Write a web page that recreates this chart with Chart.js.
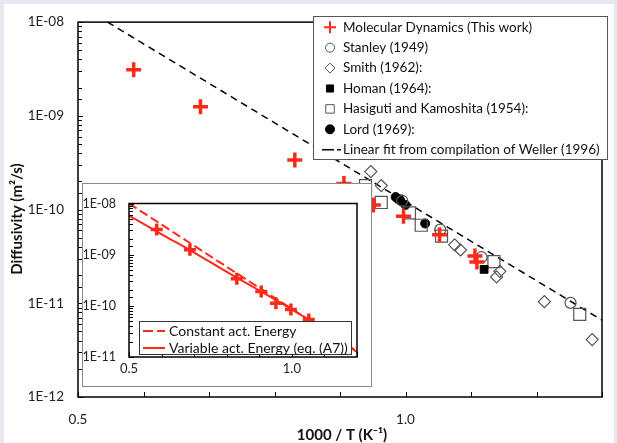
<!DOCTYPE html>
<html>
<head>
<meta charset="utf-8">
<script src="https://cdn.jsdelivr.net/npm/chart.js@4.4.0/dist/chart.umd.min.js"></script>
<style>
  html, body { margin: 0; padding: 0; }
  body { width: 617px; height: 443px; background: #e6e7f1; position: relative; overflow: hidden; }
  #panel { position: absolute; left: 4px; top: 4px; width: 610px; height: 439px; background: #fff; }
  #main { position: absolute; left: 0; top: 0; }
  #inset { position: absolute; left: 82px; top: 183px; }
</style>
</head>
<body>
<div id="panel"></div>
<canvas id="main" width="617" height="443"></canvas>
<canvas id="inset" width="290" height="204"></canvas>
<script>
// x = 1000 / T (K^-1), y = diffusivity (m^2/s)
var mdX = [0.585, 0.687, 0.831, 0.906, 0.951, 0.997, 1.052, 1.106, 1.109];
var mdY = [3.1e-9, 1.25e-9, 3.38e-10, 1.9e-10, 1.12e-10, 8.5e-11, 5.4e-11, 3.2e-11, 2.75e-11];
var stanleyX = [0.995, 1.053, 1.116, 1.252];
var stanleyY = [1.24e-10, 6.1e-11, 3.1e-11, 1.01e-11];
var smithX = [0.947, 0.963, 1.075, 1.084, 1.139, 1.144, 1.212, 1.285];
var smithY = [2.54e-10, 1.8e-10, 4.2e-11, 3.7e-11, 1.91e-11, 2.19e-11, 1.04e-11, 4.1e-12];
var homanX = [0.99, 1.12];
var homanY = [1.3e-10, 2.3e-11];
var hasigutiX = [0.939, 0.963, 1.006, 1.024, 1.055, 1.135, 1.266];
var hasigutiY = [1.8e-10, 1.19e-10, 9.2e-11, 6.8e-11, 5.2e-11, 2.78e-11, 7.6e-12];
var lordX = [0.985, 0.992, 1.0, 1.03];
var lordY = [1.36e-10, 1.25e-10, 1.12e-10, 7.1e-11];
var wellerX = [0.545, 1.3];
var wellerY = [1.0e-8, 6.6e-12];

// inset fits
var constX = [0.5, 1.2];
var constY = [1.0e-8, 1.3e-11];
var varX = [0.5, 0.6, 0.7, 0.8, 0.9, 1.0, 1.1, 1.2];
var varY = [5.8e-9, 2.5e-9, 1.1e-9, 4.6e-10, 2.0e-10, 8.5e-11, 3.4e-11, 1.25e-11];

var xLabels = [0.5, 1.0];
var mainLabels = ['Molecular Dynamics (This work)', 'Stanley (1949)', 'Smith (1962):', 'Homan (1964):',
  'Hasiguti and Kamoshita (1954):', 'Lord (1969):', 'Linear fit from compilation of Weller (1996)'];
var insetLabels = ['Constant act. Energy', 'Variable act. Energy (eq. (A7))'];

var RED = '#ff2a1a';
var GREY = '#555';
var FONT = 'Lato, "Open Sans", sans-serif';
Chart.defaults.font.family = FONT;
Chart.defaults.color = '#222';

function pts(xs, ys) { return xs.map(function(x, i) { return { x: x, y: ys[i] }; }); }
function isDecade(v) { var e = Math.log10(v); return Math.abs(e - Math.round(e)) < 1e-6; }
function expLabel(v) {
    if (!isDecade(v)) return '';
    var e = Math.round(Math.log10(v));
    return '1E-' + String(-e).padStart(2, '0');
}
function xLabel(v) {
    for (var i = 0; i < xLabels.length; i++) if (Math.abs(v - xLabels[i]) < 1e-6) return xLabels[i].toFixed(1);
    return '';
}

/* frame + inside tick marks */
var frameTicks = {
    id: 'frameTicks',
    afterDatasetsDraw: function(chart, args, o) {
        var ctx = chart.ctx, a = chart.chartArea, xs = chart.scales.x, ys = chart.scales.y;
        ctx.save();
        ctx.strokeStyle = '#000';
        ctx.lineWidth = 1;
        ctx.beginPath();
        xs.ticks.forEach(function(t) {
            var px = Math.round(xs.getPixelForValue(t.value)) + 0.5;
            ctx.moveTo(px, a.bottom); ctx.lineTo(px, a.bottom - o.len);
        });
        ys.ticks.forEach(function(t) {
            var py = Math.round(ys.getPixelForValue(t.value)) + 0.5;
            ctx.moveTo(a.left, py); ctx.lineTo(a.left + (isDecade(t.value) ? o.len : o.len - 1), py);
        });
        ctx.stroke();
        ctx.lineWidth = o.frame;
        ctx.strokeRect(a.left, a.top, a.right - a.left, a.bottom - a.top);
        ctx.restore();
    }
};

/* legend box drawn inside the plot */
var boxLegend = {
    id: 'boxLegend',
    afterDraw: function(chart, args, o) {
        var ctx = chart.ctx;
        ctx.save();
        ctx.fillStyle = '#fff';
        ctx.fillRect(o.x, o.y, o.w, o.h);
        ctx.strokeStyle = o.border;
        ctx.lineWidth = 1;
        ctx.strokeRect(o.x + 0.5, o.y + 0.5, o.w, o.h);
        ctx.font = o.font;
        ctx.textBaseline = 'middle';
        var row = 0;
        chart.data.datasets.forEach(function(ds) {
            if (o.linesOnly && !ds.showLine) return;
            var cy = o.y + o.first + row * o.step;
            row++;
            ctx.save();
            if (ds.showLine) {
                ctx.strokeStyle = ds.borderColor;
                ctx.lineWidth = ds.borderWidth;
                ctx.setLineDash(ds.legendDash || []);
                ctx.beginPath();
                ctx.moveTo(o.lx0, cy); ctx.lineTo(o.lx1, cy);
                ctx.stroke();
            } else {
                ctx.strokeStyle = ds.borderColor;
                ctx.fillStyle = ds.backgroundColor;
                ctx.lineWidth = ds.legendBorder;
                Chart.helpers.drawPoint(ctx, { pointStyle: ds.pointStyle, radius: ds.legendRadius, borderWidth: ds.legendBorder, rotation: 0 }, o.mx, cy);
            }
            ctx.restore();
            ctx.fillStyle = '#111';
            ctx.fillText(ds.label, o.tx, cy);
        });
        ctx.restore();
    }
};

var axisTitles = {
    id: 'axisTitles',
    afterDraw: function(chart) {
        var ctx = chart.ctx;
        ctx.save();
        ctx.fillStyle = '#111';
        ctx.font = 'bold 15px ' + FONT;
        ctx.textAlign = 'center';
        ctx.textBaseline = 'middle';
        ctx.fillText('1000 / T (K\u207B\u00B9)', 342, 435);
        ctx.translate(17, 219);
        ctx.rotate(-Math.PI / 2);
        ctx.fillText('Diffusivity (m\u00B2/s)', 0, 0);
        ctx.restore();
    }
};

var insetBg = {
    id: 'insetBg',
    beforeDraw: function(chart) {
        var ctx = chart.ctx;
        ctx.save();
        ctx.fillStyle = '#fff';
        ctx.fillRect(0, 0, chart.width, chart.height);
        ctx.strokeStyle = '#8a8a8a';
        ctx.lineWidth = 1;
        ctx.strokeRect(0.5, 0.5, chart.width - 1, chart.height - 1);
        ctx.restore();
    }
};

function markers(label, xs, ys, style, r, fill, stroke, bw, lr, lbw) {
    return {
        label: label, data: pts(xs, ys), pointStyle: style, pointRadius: r, pointHoverRadius: r,
        backgroundColor: fill, borderColor: stroke, pointBorderWidth: bw, borderWidth: bw,
        legendRadius: lr, legendBorder: lbw, showLine: false
    };
}

new Chart(document.getElementById('main'), {
    type: 'scatter',
    data: {
        datasets: [
            markers(mainLabels[0], mdX, mdY, 'cross', 7.5, RED, RED, 3.5, 6, 2),
            markers(mainLabels[1], stanleyX, stanleyY, 'circle', 5.5, 'rgba(0,0,0,0)', GREY, 1.2, 4.5, 1),
            markers(mainLabels[2], smithX, smithY, 'rectRot', 6, 'rgba(0,0,0,0)', GREY, 1.2, 5, 1),
            markers(mainLabels[3], homanX, homanY, 'rect', 5.5, '#000', '#000', 1, 5, 1),
            markers(mainLabels[4], hasigutiX, hasigutiY, 'rect', 8.5, 'rgba(0,0,0,0)', GREY, 1.2, 6, 1),
            markers(mainLabels[5], lordX, lordY, 'circle', 4.5, '#000', '#000', 1, 4.5, 1),
            {
                label: mainLabels[6], data: pts(wellerX, wellerY), showLine: true,
                borderColor: '#000', borderWidth: 1.5, borderDash: [7, 5], legendDash: [12, 3],
                pointRadius: 0, fill: false
            }
        ]
    },
    options: {
        responsive: false,
        animation: false,
        events: [],
        layout: { padding: { left: 0, top: 11, right: 4, bottom: 0 } },
        plugins: {
            legend: { display: false },
            tooltip: { enabled: false },
            frameTicks: { len: 5, frame: 1.5 },
            boxLegend: { x: 313, y: 16, w: 294, h: 143, first: 11.3, step: 20.4, mx: 330, tx: 343,
                lx0: 322, lx1: 341, font: '13.5px ' + FONT, border: '#555', linesOnly: false }
        },
        scales: {
            x: {
                type: 'linear', min: 0.5, max: 1.3,
                afterFit: function(s) { s.height = 46; },
                grid: { display: false, drawTicks: false }, border: { display: false },
                ticks: { stepSize: 0.1, autoSkip: false, maxRotation: 0, padding: 15, font: { size: 13.5 }, callback: xLabel }
            },
            y: {
                type: 'logarithmic', min: 1e-12, max: 1e-8,
                afterFit: function(s) { s.width = 78; },
                grid: { display: false, drawTicks: false }, border: { display: false },
                ticks: { autoSkip: false, padding: 14, font: { size: 13.5 }, callback: expLabel }
            }
        }
    },
    plugins: [frameTicks, boxLegend, axisTitles]
});

new Chart(document.getElementById('inset'), {
    type: 'scatter',
    data: {
        datasets: [
            markers('Molecular Dynamics (This work)', mdX, mdY, 'cross', 6, RED, RED, 3.5, 6, 2),
            {
                label: insetLabels[0], data: pts(constX, constY), showLine: true,
                borderColor: RED, borderWidth: 2, borderDash: [9, 4], legendDash: [10, 4],
                pointRadius: 0, fill: false
            },
            {
                label: insetLabels[1], data: pts(varX, varY), showLine: true,
                borderColor: RED, borderWidth: 2, pointRadius: 0, fill: false, tension: 0.3
            }
        ]
    },
    options: {
        responsive: false,
        animation: false,
        events: [],
        layout: { padding: { left: 0, top: 10, right: 15, bottom: 0 } },
        plugins: {
            legend: { display: false },
            tooltip: { enabled: false },
            frameTicks: { len: 5, frame: 1.5 },
            boxLegend: { x: 57, y: 138, w: 212, h: 33, first: 10, step: 17, mx: 72, tx: 87,
                lx0: 61, lx1: 83, font: '14px ' + FONT, border: '#333', linesOnly: true }
        },
        scales: {
            x: {
                type: 'linear', min: 0.5, max: 1.2,
                afterFit: function(s) { s.height = 30; },
                grid: { display: false, drawTicks: false }, border: { display: false },
                ticks: { stepSize: 0.1, autoSkip: false, maxRotation: 0, padding: 4, font: { size: 13 }, callback: xLabel }
            },
            y: {
                type: 'logarithmic', min: 1e-11, max: 1e-8,
                afterFit: function(s) { s.width = 47; },
                grid: { display: false, drawTicks: false }, border: { display: false },
                ticks: { autoSkip: false, padding: 13, font: { size: 12.5 }, callback: expLabel }
            }
        }
    },
    plugins: [insetBg, frameTicks, boxLegend]
});
</script>
</body>
</html>
